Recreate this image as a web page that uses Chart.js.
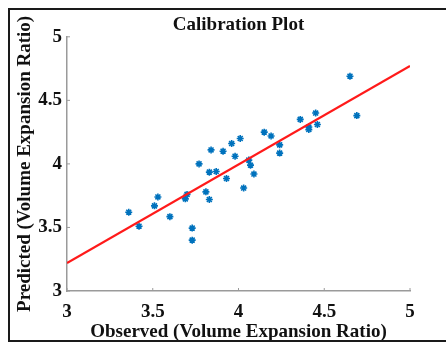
<!DOCTYPE html>
<html>
<head>
<meta charset="utf-8">
<script src="https://cdn.jsdelivr.net/npm/chart.js@4/dist/chart.umd.min.js"></script>
<style>
  html, body { margin: 0; padding: 0; background: #fff; overflow: hidden; }
  #wrap { position: relative; width: 446px; height: 343px; }
  #frame {
    position: absolute; left: 8px; top: 8px; width: 460px; height: 330px;
    border: 2px solid #1a1a1a; pointer-events: none;
  }
</style>
</head>
<body>
<div id="wrap">
  <canvas id="calib" width="446" height="343"></canvas>
  <div id="frame"></div>
</div>
<script>
// observed vs predicted volume expansion ratio
const observed = [3.36, 3.42, 3.51, 3.53, 3.60, 3.69, 3.70, 3.73, 3.73, 3.77, 3.81, 3.83,
  3.83, 3.84, 3.87, 3.91, 3.93, 3.96, 3.98, 4.01, 4.03, 4.06, 4.07, 4.09, 4.15, 4.19,
  4.24, 4.24, 4.36, 4.41, 4.41, 4.45, 4.46, 4.65, 4.69];
const predicted = [3.62, 3.51, 3.67, 3.74, 3.585, 3.725, 3.76, 3.495, 3.40, 4.00, 3.78, 3.72,
  3.935, 4.11, 3.94, 4.10, 3.885, 4.16, 4.06, 4.20, 3.81, 4.03, 3.99, 3.92, 4.25, 4.22,
  4.15, 4.085, 4.35, 4.29, 4.27, 4.40, 4.31, 4.69, 4.38];

// fitted calibration line, end points
const fitX = [3, 5];
const fitY = [3.22, 4.77];

const axisTicks = [3, 3.5, 4, 4.5, 5];
const tickText = ['3', '3.5', '4', '4.5', '5'];

const serif = { family: '"Liberation Serif", "Times New Roman", serif', size: 19, weight: 'bold' };
const axisGray = '#9a9a9a';

function tickLabel(value) {
  const i = axisTicks.indexOf(value);
  return i >= 0 ? tickText[i] : '';
}

// MATLAB-style short ticks pointing into the plot
const innerTicks = {
  id: 'innerTicks',
  afterDraw(chart) {
    const { ctx, scales: { x, y } } = chart;
    ctx.save();
    ctx.strokeStyle = axisGray;
    ctx.lineWidth = 1;
    axisTicks.forEach(v => {
      const px = x.getPixelForValue(v);
      ctx.beginPath();
      ctx.moveTo(px, x.top);
      ctx.lineTo(px, x.top - 3);
      ctx.stroke();
      const py = y.getPixelForValue(v);
      ctx.beginPath();
      ctx.moveTo(y.right, py);
      ctx.lineTo(y.right + 3, py);
      ctx.stroke();
    });
    ctx.restore();
  }
};

new Chart(document.getElementById('calib'), {
  type: 'scatter',
  data: {
    datasets: [{
      data: observed.map((v, i) => ({ x: v, y: predicted[i] })),
      pointStyle: 'star',
      pointRadius: 3.5,
      borderColor: '#0072BD',
      backgroundColor: '#0072BD',
      borderWidth: 1.6,
      order: 2
    }, {
      type: 'line',
      data: fitX.map((v, i) => ({ x: v, y: fitY[i] })),
      borderColor: '#ff1a1a',
      borderWidth: 2.2,
      pointRadius: 0,
      fill: false,
      order: 1
    }]
  },
  options: {
    responsive: false,
    animation: false,
    events: [],
    layout: { padding: { left: 0, right: 36, top: 0, bottom: 0 } },
    plugins: {
      legend: { display: false },
      tooltip: { enabled: false },
      title: {
        display: true,
        fullSize: false,
        text: 'Calibration Plot',
        color: '#111',
        font: serif,
        padding: { top: 14, bottom: 0 }
      }
    },
    scales: {
      x: {
        type: 'linear',
        min: 3, max: 5,
        afterFit: s => { s.height = 52; },
        grid: { display: false, drawTicks: false },
        border: { display: true, color: axisGray, width: 1.5 },
        ticks: { stepSize: 0.5, color: '#111', font: serif, padding: 10, maxRotation: 0, callback: tickLabel },
        title: {
          display: true,
          text: 'Observed (Volume Expansion Ratio)',
          color: '#111',
          font: serif,
          padding: { top: 0, bottom: 0 }
        }
      },
      y: {
        type: 'linear',
        min: 3, max: 5,
        afterFit: s => { s.width = 67; },
        grid: { display: false, drawTicks: false },
        border: { display: true, color: axisGray, width: 1.5 },
        ticks: { stepSize: 0.5, color: '#111', font: serif, padding: 5, callback: tickLabel },
        title: {
          display: true,
          text: 'Predicted (Volume Expansion Ratio)',
          color: '#111',
          font: serif,
          padding: { top: 14, bottom: 0 }
        }
      }
    }
  },
  plugins: [innerTicks]
});
</script>
</body>
</html>
